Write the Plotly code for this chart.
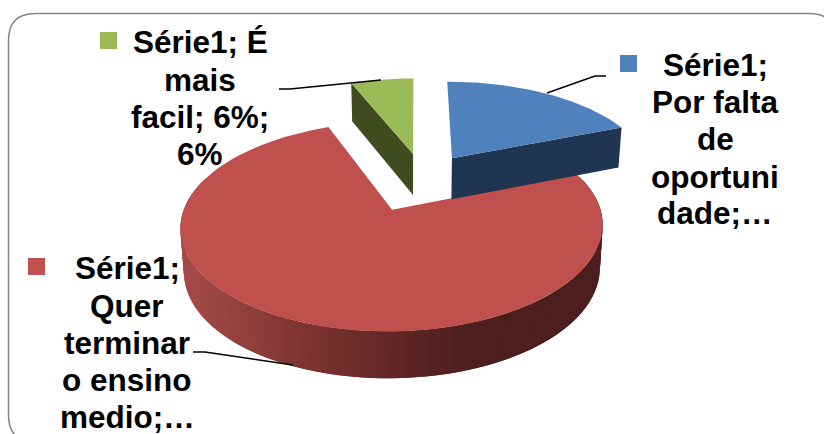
import math
import plotly.graph_objects as go

# Chart data
categories = ["Por falta de oportunidade", "Quer terminar o ensino medio", "É mais facil"]
percentages = [19, 75, 6]
top_colors = ["#4F81BD", "#C0504D", "#9BBB59"]
side_colors = ["#1F3552", "#4C1E1E", "#414B20"]

label_lines = [
    ["Série1;", "Por falta", "de", "oportuni", "dade;…"],
    ["Série1;", "Quer", "terminar", "o ensino", "medio;…"],
    ["Série1; É", "mais", "facil; 6%;", "6%"],
]

# Pie geometry (pixel-based axes, perspective onto the tabletop plane)
CX, CY = 416.0, 183.0
RX, RY = 208.0, 92.0
PERSPECTIVE = 0.15
DEPTH = 42.0
DEPTH_PERSPECTIVE = 0.08
TAPER = 0.985
EXPLODE = [(0.18, 0.28), (-0.11, -0.279), (-0.015, 0.33)]
RADIUS_SCALE = [(0.975, 1.04), (0.96, 1.02), (0.97, 1.04)]

LABEL_X = [715, 127, 200]
LABEL_Y = [[65, 102, 139, 177, 213], [268, 306, 343, 380, 417], [42, 80, 117, 154]]
KEY_POS = [(628.5, 63.5), (36.5, 266.5), (108.5, 40.5)]
LEADERS = [
    ([547, 595, 606], [93, 76, 76]),
    ([293, 205, 193], [365, 352, 352]),
    ([381, 290, 279], [80, 89, 89]),
]
SHADE_STOPS = [(183, (164, 75, 72)), (300, (124, 51, 49)), (400, (92, 37, 35)), (465, (76, 30, 30)), (620, (76, 30, 30))]


def project(u, v):
    s = 1.0 / (1.0 + PERSPECTIVE * v)
    return CX + RX * u * s, CY - RY * v * s


def lower(u, v):
    x, y = project(u, v)
    return CX + (x - CX) * TAPER, y + DEPTH / (1.0 + DEPTH_PERSPECTIVE * v)


def rim(i, deg):
    a = math.radians(deg)
    off, scale = EXPLODE[i], RADIUS_SCALE[i]
    return off[0] + scale[0] * math.sin(a), off[1] + scale[1] * math.cos(a)


def shade(x):
    for (x0, c0), (x1, c1) in zip(SHADE_STOPS, SHADE_STOPS[1:]):
        if x <= x1:
            t = max(0.0, (x - x0) / (x1 - x0))
            return "rgb(%d,%d,%d)" % tuple(round(a + (b - a) * t) for a, b in zip(c0, c1))
    return "rgb(76,30,30)"


def poly(pts, color):
    pts = list(pts) + [pts[0]]
    return go.Scatter(
        x=[p[0] for p in pts], y=[p[1] for p in pts], mode="lines", fill="toself", fillcolor=color,
        line=dict(color=color, width=0), hoverinfo="skip", showlegend=False,
    )


fig = go.Figure()

# Angular span of each slice, clockwise from twelve o'clock
spans = []
start = 0.0
for p in percentages:
    spans.append((start, start + p * 3.6))
    start += p * 3.6


def top_outline(i, steps=90):
    a0, a1 = spans[i]
    pts = [project(*EXPLODE[i])]
    for k in range(steps + 1):
        pts.append(project(*rim(i, a0 + (a1 - a0) * k / steps)))
    return pts


# Red slice: curved wall with a sideways light falloff, then the top face.
# Each strip also covers the previous one so no seams show between them.
a0, a1 = spans[1]
N = 140
for k in range(1, N):
    d_prev = a0 + (a1 - a0) * (k - 1) / N
    d1 = a0 + (a1 - a0) * (k + 1) / N
    dm = a0 + (a1 - a0) * (k + 0.5) / N
    if math.cos(math.radians(dm)) > 0.3:
        continue
    r0, r1 = rim(1, d_prev), rim(1, d1)
    mid_x = project(*rim(1, dm))[0]
    fig.add_trace(poly([project(*r0), project(*r1), lower(*r1), lower(*r0)], shade(mid_x)))
fig.add_trace(poly(top_outline(1), top_colors[1]))

# Blue slice: the cut face along its closing edge and a top face
edge = rim(0, spans[0][1])
apex = EXPLODE[0]
fig.add_trace(poly([project(*apex), project(*edge), lower(*edge), lower(*apex)], side_colors[0]))
fig.add_trace(poly(top_outline(0), top_colors[0]))

# Green slice: the cut face on its opening edge and a top face
edge = rim(2, spans[2][0])
apex = EXPLODE[2]
fig.add_trace(poly([project(*apex), project(*edge), lower(*edge), lower(*apex)], side_colors[2]))
fig.add_trace(poly(top_outline(2), top_colors[2]))

# Leader lines
for lx, ly in LEADERS:
    fig.add_trace(go.Scatter(x=lx, y=ly, mode="lines", line=dict(color="#000000", width=1.5),
                             hoverinfo="skip", showlegend=False))

# Legend keys embedded in the data labels
for (kx, ky), c in zip(KEY_POS, top_colors):
    fig.add_trace(go.Scatter(x=[kx], y=[ky], mode="markers",
                             marker=dict(symbol="square", size=17, color=c, line=dict(width=0)),
                             hoverinfo="skip", showlegend=False))

# Data labels, one annotation per line so the leading stays tight
annotations = []
for lines, lx, lys in zip(label_lines, LABEL_X, LABEL_Y):
    for text, ly in zip(lines, lys):
        annotations.append(dict(
            x=lx, y=ly, xref="x", yref="y", text="<b>%s</b>" % text, showarrow=False,
            xanchor="center", yanchor="middle",
            font=dict(family="Liberation Sans", size=31.5, color="#000000"),
        ))

# Rounded chart frame, running past the page edges on the right and bottom
L, T, R_, B, r = 8.5, 13.5, 836.0, 442.0, 27.0
frame = (f"M{L + r},{T} L{R_ - r},{T} Q{R_},{T} {R_},{T + r} L{R_},{B - r} Q{R_},{B} {R_ - r},{B} "
         f"L{L + r},{B} Q{L},{B} {L},{B - r} L{L},{T + r} Q{L},{T} {L + r},{T} Z")

fig.update_layout(
    width=824, height=434, margin=dict(l=0, r=0, t=0, b=0),
    paper_bgcolor="#FFFFFF", plot_bgcolor="#FFFFFF",
    xaxis=dict(range=[0, 824], visible=False, fixedrange=True),
    yaxis=dict(range=[434, 0], visible=False, fixedrange=True),
    annotations=annotations,
    shapes=[dict(type="path", path=frame, xref="x", yref="y", line=dict(color="#868686", width=1.5),
                 layer="below")],
)

fig.write_html("out.html", config=dict(displayModeBar=False))
